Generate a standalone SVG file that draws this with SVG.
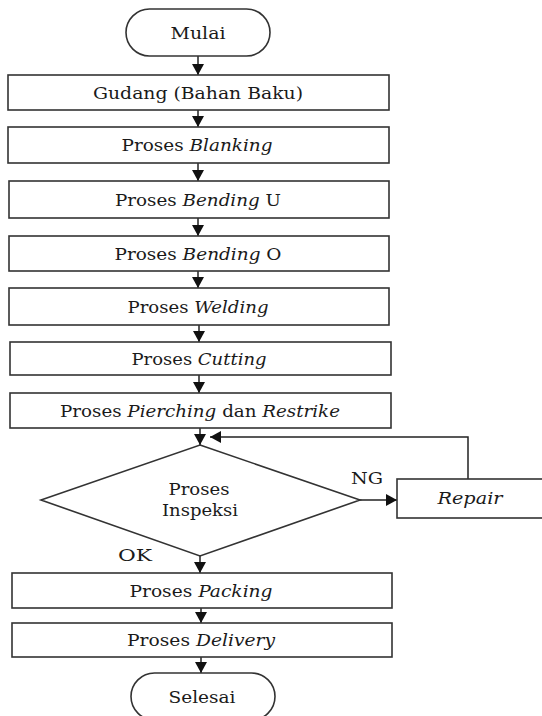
<svg xmlns="http://www.w3.org/2000/svg" width="542" height="716" viewBox="0 0 542 716">
<style>
.box{fill:#fff;stroke:#333;stroke-width:1.6}
.t{font-family:"DejaVu Serif","Liberation Serif",serif;font-size:17px;fill:#1a1a1a;text-anchor:middle}
.i{font-style:italic}
.c{fill:none;stroke:#222;stroke-width:1.5}
</style>
<defs>
<marker id="ah" markerUnits="userSpaceOnUse" markerWidth="12" markerHeight="12" refX="11" refY="6" orient="auto">
<path d="M0,0 L11,6 L0,12 z" fill="#111"/>
</marker>
</defs>
<rect width="542" height="716" fill="#fff"/>
<g id="connectors">
<line class="c" x1="198" y1="56" x2="198" y2="75" marker-end="url(#ah)"/>
<line class="c" x1="198" y1="110" x2="198" y2="127" marker-end="url(#ah)"/>
<line class="c" x1="198" y1="163" x2="198" y2="181" marker-end="url(#ah)"/>
<line class="c" x1="198" y1="218" x2="198" y2="236" marker-end="url(#ah)"/>
<line class="c" x1="198" y1="271" x2="198" y2="288" marker-end="url(#ah)"/>
<line class="c" x1="199" y1="325" x2="199" y2="342" marker-end="url(#ah)"/>
<line class="c" x1="199" y1="375" x2="199" y2="393" marker-end="url(#ah)"/>
<line class="c" x1="200" y1="428" x2="200" y2="445" marker-end="url(#ah)"/>
<line class="c" x1="360" y1="500" x2="397" y2="500" marker-end="url(#ah)"/>
<polyline class="c" points="468,479 468,437 210,437" marker-end="url(#ah)"/>
<line class="c" x1="200" y1="556" x2="200" y2="573" marker-end="url(#ah)"/>
<line class="c" x1="201" y1="608" x2="201" y2="623" marker-end="url(#ah)"/>
<line class="c" x1="201" y1="657" x2="201" y2="673" marker-end="url(#ah)"/>
</g>
<g id="mulai">
<rect class="box" x="126" y="9" width="144" height="47" rx="23.5"/>
<text class="t" x="198" y="39" textLength="55" lengthAdjust="spacingAndGlyphs">Mulai</text>
</g>
<g id="gudang">
<rect class="box" x="8" y="75" width="381" height="35"/>
<text class="t" x="198" y="98.5" textLength="210" lengthAdjust="spacingAndGlyphs">Gudang (Bahan Baku)</text>
</g>
<g id="blanking">
<rect class="box" x="8" y="127" width="381" height="36"/>
<text class="t" x="197" y="151" textLength="151" lengthAdjust="spacingAndGlyphs">Proses <tspan class="i">Blanking</tspan></text>
</g>
<g id="bendingU">
<rect class="box" x="9" y="181" width="380" height="37"/>
<text class="t" x="198" y="205.5" textLength="166" lengthAdjust="spacingAndGlyphs">Proses <tspan class="i">Bending</tspan> U</text>
</g>
<g id="bendingO">
<rect class="box" x="9" y="236" width="380" height="35"/>
<text class="t" x="198" y="259.5" textLength="167" lengthAdjust="spacingAndGlyphs">Proses <tspan class="i">Bending</tspan> O</text>
</g>
<g id="welding">
<rect class="box" x="9" y="288" width="380" height="37"/>
<text class="t" x="198" y="312.5" textLength="141" lengthAdjust="spacingAndGlyphs">Proses <tspan class="i">Welding</tspan></text>
</g>
<g id="cutting">
<rect class="box" x="10" y="342" width="381" height="33"/>
<text class="t" x="199" y="364.5" textLength="135" lengthAdjust="spacingAndGlyphs">Proses <tspan class="i">Cutting</tspan></text>
</g>
<g id="piercing">
<rect class="box" x="10" y="393" width="381" height="35"/>
<text class="t" x="200" y="416.5" textLength="280" lengthAdjust="spacingAndGlyphs">Proses <tspan class="i">Pierching</tspan> dan <tspan class="i">Restrike</tspan></text>
</g>
<g id="inspeksi">
<polygon class="box" points="200,445 360,500 200,556 41,500"/>
<text class="t" x="199" y="495" font-size="16.5" textLength="61" lengthAdjust="spacingAndGlyphs">Proses</text>
<text class="t" x="200" y="516" font-size="16.5" textLength="76" lengthAdjust="spacingAndGlyphs">Inspeksi</text>
</g>
<g id="repair">
<rect class="box" x="397" y="479" width="148" height="39"/>
<text class="t i" x="470" y="504" textLength="65" lengthAdjust="spacingAndGlyphs">Repair</text>
</g>
<g id="labels">
<text class="t" x="367" y="484" textLength="32" lengthAdjust="spacingAndGlyphs">NG</text>
<text class="t" x="135" y="561" textLength="34" lengthAdjust="spacingAndGlyphs">OK</text>
</g>
<g id="packing">
<rect class="box" x="12" y="573" width="380" height="35"/>
<text class="t" x="201" y="596.5" textLength="143" lengthAdjust="spacingAndGlyphs">Proses <tspan class="i">Packing</tspan></text>
</g>
<g id="delivery">
<rect class="box" x="12" y="623" width="380" height="34"/>
<text class="t" x="201" y="646" textLength="148" lengthAdjust="spacingAndGlyphs">Proses <tspan class="i">Delivery</tspan></text>
</g>
<g id="selesai">
<rect class="box" x="131" y="673" width="144" height="47" rx="23.5"/>
<text class="t" x="202" y="703" textLength="67" lengthAdjust="spacingAndGlyphs">Selesai</text>
</g>
</svg>
